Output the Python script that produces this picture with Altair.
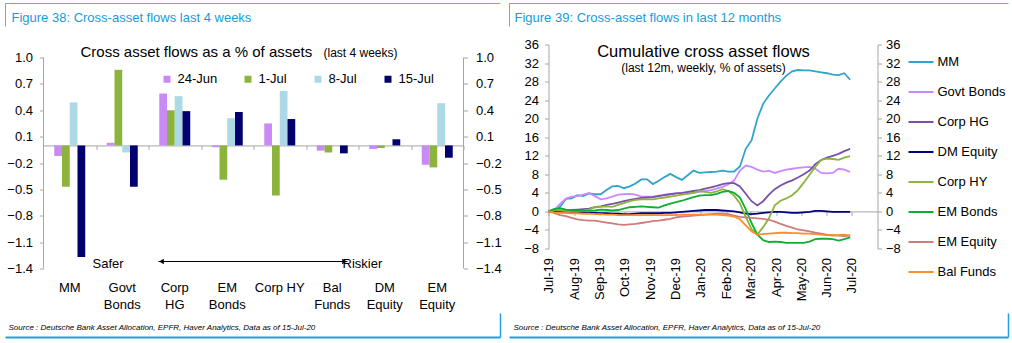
import altair as alt
import pandas as pd

FONT = "Liberation Sans"
TITLE_BLUE = "#1a9bd7"
FRAME_LIGHT = "#4db6e8"
FRAME_DARK = "#1ea1dd"
GRAY = "#a6a6a6"

# ---------------- Figure 38 data ----------------
categories = ["MM", "Govt|Bonds", "Corp|HG", "EM|Bonds", "Corp HY", "Bal|Funds", "DM|Equity", "EM|Equity"]
weeks = ["24-Jun", "1-Jul", "8-Jul", "15-Jul"]
flows_24jun = [-0.12, 0.03, 0.59, -0.02, 0.25, -0.06, -0.04, -0.22]
flows_1jul = [-0.47, 0.86, 0.40, -0.39, -0.57, -0.08, -0.03, -0.25]
flows_8jul = [0.49, -0.08, 0.56, 0.31, 0.62, 0.0, 0.0, 0.48]
flows_15jul = [-1.27, -0.47, 0.39, 0.38, 0.30, -0.09, 0.07, -0.14]
bar_colors = ["#c98af5", "#8cb43c", "#add8e6", "#00006e"]
y_ticks_38 = [-1.4, -1.1, -0.8, -0.5, -0.2, 0.1, 0.4, 0.7, 1.0]

# ---------------- Figure 39 data ----------------
series_names = ["MM", "Govt Bonds", "Corp HG", "DM Equity", "Corp HY", "EM Bonds", "EM Equity", "Bal Funds"]
line_colors = ["#31a5c9", "#cc88ff", "#7851a9", "#000080", "#8cb43c", "#10ae30", "#cd7c7a", "#ff8c2a"]
mm = [0, 0.5, 1.0, 2.7, 2.8, 3.5, 3.3, 3.9, 3.7, 3.7,
      4.6, 5.4, 5.5, 5.0, 5.4, 6.0, 6.9, 6.9, 5.9, 6.6,
      7.4, 8.1, 7.4, 6.8, 7.8, 8.8, 8.3, 8.4, 8.5, 8.6,
      8.8, 8.6, 8.6, 9.7, 13.5, 15.3, 20.0, 23.2, 25.0, 26.5,
      28.0, 29.3, 30.2, 30.5, 30.4, 30.4, 30.2, 30.0, 29.8, 29.5,
      29.4, 29.8, 28.4]
govt_bonds = [0, 0.3, 1.6, 2.8, 3.2, 3.3, 3.6, 4.0, 3.3, 2.6,
              2.8, 3.2, 3.6, 3.7, 3.8, 3.6, 3.2, 3.2, 3.2, 3.4,
              3.6, 3.8, 3.9, 4.0, 4.0, 4.0, 4.2, 4.4, 4.6, 4.9,
              5.3, 5.8, 6.7, 8.8, 9.9, 9.6, 9.0, 8.6, 8.8, 8.3,
              8.7, 9.0, 9.2, 9.4, 9.5, 9.6, 9.2, 8.3, 8.2, 8.3,
              9.2, 9.0, 8.5]
corp_hg = [0, 0, 0.1, 0.2, 0.3, 0.4, 0.5, 0.6, 0.9, 1.1,
           1.4, 1.6, 1.9, 2.2, 2.5, 2.7, 2.9, 3.0, 3.1, 3.3,
           3.5, 3.7, 3.9, 4.0, 4.2, 4.4, 4.6, 4.9, 5.2, 5.5,
           5.9, 6.1, 6.1, 5.4, 3.8, 2.2, 1.3, 2.2, 3.6, 4.8,
           5.6, 6.2, 6.7, 7.3, 8.0, 8.8, 10.2, 11.1, 11.6, 12.0,
           12.4, 13.0, 13.5]
dm_equity = [0, -0.1, -0.2, -0.2, -0.2, -0.3, -0.3, -0.3, -0.3, -0.4,
             -0.4, -0.5, -0.5, -0.6, -0.6, -0.5, -0.4, -0.4, -0.4, -0.4,
             -0.3, -0.3, -0.2, -0.1, 0.0, 0.1, 0.2, 0.3, 0.3, 0.3,
             0.2, 0.1, 0.0, -0.2, -0.5, -0.6, -0.5, -0.3, -0.2, -0.1,
             -0.1, -0.2, -0.3, -0.3, -0.2, -0.1, 0.1, 0.1, 0.0, -0.1,
             -0.1, -0.1, -0.1]
corp_hy = [0, 0.3, 0.3, 0.1, 0, 0, 0.1, 0.4, 0.9, 1.0,
           1.1, 1.0, 1.4, 1.8, 2.2, 2.5, 2.6, 2.6, 2.6, 2.8,
           3.0, 3.2, 3.4, 3.6, 3.8, 4.0, 4.4, 4.2, 4.0, 4.3,
           4.8, 4.4, 3.4, 1.7, -1.2, -3.8, -5.0, -3.4, -1.5, 1.3,
           2.3, 2.8, 3.5, 4.6, 6.2, 7.9, 9.6, 11.1, 11.4, 11.3,
           11.1, 11.6, 11.9]
em_bonds = [0, 0.5, 0.7, 0.4, 0.2, 0.1, 0.1, 0.1, 0.2, 0.4,
            0.3, 0.2, 0.3, 0.6, 0.9, 1.0, 1.1, 1.0, 0.9, 0.8,
            1.3, 1.7, 2.0, 2.3, 2.7, 3.1, 3.4, 3.5, 3.5, 3.8,
            4.2, 4.4, 4.0, 3.0, 0.5, -2.5, -5.0, -6.2, -6.6, -6.5,
            -6.6, -6.8, -6.8, -6.8, -6.8, -6.5, -6.0, -5.9, -5.9, -6.0,
            -6.3, -6.0, -5.6]
em_equity = [0, -0.4, -0.8, -1.0, -1.4, -1.7, -1.9, -2.0, -2.0, -2.2,
             -2.4, -2.6, -2.8, -2.9, -2.8, -2.7, -2.5, -2.3, -2.1, -2.0,
             -1.8, -1.6, -1.3, -1.1, -1.0, -0.9, -0.8, -0.7, -0.6, -0.5,
             -0.5, -0.6, -0.9, -1.2, -1.3, -1.4, -1.5, -1.6, -1.8, -2.2,
             -2.7, -3.1, -3.5, -3.9, -4.1, -4.3, -4.6, -4.8, -5.0, -5.1,
             -5.2, -5.3, -5.2]
bal_funds = [0, -0.2, -0.3, -0.3, -0.4, -0.4, -0.5, -0.5, -0.6, -0.6,
             -0.7, -0.7, -0.8, -0.8, -0.8, -0.8, -0.8, -0.8, -0.8, -0.8,
             -0.8, -0.8, -0.8, -0.7, -0.7, -0.7, -0.7, -0.7, -0.7, -0.7,
             -0.8, -0.9, -1.1, -1.7, -3.0, -4.3, -5.0, -4.9, -4.8, -4.7,
             -4.6, -4.6, -4.7, -4.7, -4.8, -4.8, -4.9, -5.0, -5.1, -5.2,
             -5.1, -5.0, -5.2]
week_dates = pd.date_range("2019-07-01", periods=53, freq="7D").strftime("%Y-%m-%dT00:00:00").tolist()
tick_months = [(2019, m) for m in range(7, 13)] + [(2020, m) for m in range(1, 8)]
y_ticks_39 = [-8, -4, 0, 4, 8, 12, 16, 20, 24, 28, 32, 36]

SOURCE = "Source : Deutsche Bank Asset Allocation, EPFR, Haver Analytics, Data as of 15-Jul-20"

ONE = pd.DataFrame({"k": [0]})


def text_layer(txt, x, y, size, color="black", align="left", italic=False, weight="normal", font=FONT):
    return alt.Chart(pd.DataFrame({"t": [txt]})).mark_text(
        align=align, baseline="alphabetic", fontSize=size, color=color, font=font,
        fontStyle="italic" if italic else "normal", fontWeight=weight,
    ).encode(text="t:N", x=alt.value(x), y=alt.value(y))


def hrule(x1, x2, y, color, width=1.0):
    return alt.Chart(ONE).mark_rule(color=color, strokeWidth=width).encode(
        x=alt.value(x1), x2=alt.value(x2), y=alt.value(y))


def vrule(x, y1, y2, color, width=1.0):
    return alt.Chart(ONE).mark_rule(color=color, strokeWidth=width).encode(
        x=alt.value(x), y=alt.value(y1), y2=alt.value(y2))


def frame(xl, xr, ytop, ybot, yv_top_end, yv_bot_start):
    return [
        hrule(xl, xr, ytop, FRAME_LIGHT, 1),
        vrule(xl, ytop, yv_top_end, FRAME_LIGHT, 1),
        hrule(xl, xr, ybot, FRAME_DARK, 2),
        vrule(xr, yv_bot_start, ybot, FRAME_DARK, 1.5),
    ]


# ================= Left panel (Figure 38) =================
rows38 = []
for wk, vals in zip(weeks, [flows_24jun, flows_1jul, flows_8jul, flows_15jul]):
    for c, v in zip(categories, vals):
        rows38.append({"category": c, "week": wk, "value": v})
df38 = pd.DataFrame(rows38)

W1, H1 = 420, 224
Y38_DOMAIN = [-1.4, 1.148]
zero1 = H1 * Y38_DOMAIN[1] / (Y38_DOMAIN[1] - Y38_DOMAIN[0])
step1 = W1 / len(categories)

xscale38 = alt.Scale(domain=categories, paddingInner=0.41, paddingOuter=0.205)
yscale38 = alt.Scale(domain=Y38_DOMAIN, nice=False, zero=False)

bars = alt.Chart(df38).mark_bar().encode(
    x=alt.X("category:N", sort=categories, scale=xscale38,
            axis=alt.Axis(title=None, orient="bottom", domain=False, ticks=False, grid=False,
                          labelAngle=0, labelExpr="split(datum.label, '|')", labelFontSize=13,
                          labelFont=FONT, labelColor="black", labelPadding=13, labelLineHeight=17)),
    xOffset=alt.XOffset("week:N", sort=weeks, scale=alt.Scale(domain=weeks, paddingInner=0, paddingOuter=0)),
    y=alt.Y("value:Q", scale=yscale38,
            axis=alt.Axis(title=None, orient="left", values=y_ticks_38, format=".1f", domain=False,
                          grid=False, tickSize=4, tickColor=GRAY, labelPadding=7, labelFontSize=13,
                          labelFont=FONT, labelColor="black")),
    color=alt.Color("week:N", sort=weeks, scale=alt.Scale(domain=weeks, range=bar_colors),
                    legend=alt.Legend(title=None, orient="none", direction="horizontal", legendX=117,
                                      legendY=28, symbolType="square", symbolSize=49, symbolStrokeWidth=0,
                                      labelFontSize=13, labelFont=FONT, labelColor="black", labelOffset=4,
                                      columnPadding=24, padding=0)),
)

ghost38 = alt.Chart(df38).mark_point(opacity=0).encode(
    x=alt.X("category:N", sort=categories, scale=xscale38,
            axis=alt.Axis(title=None, orient="bottom", offset=-(H1 - zero1), labels=False, domain=True,
                          domainColor=GRAY, ticks=True, tickColor=GRAY, tickSize=4,
                          tickOffset=step1 / 2, grid=False)),
    y=alt.Y("value:Q", scale=yscale38,
            axis=alt.Axis(title=None, orient="right", values=y_ticks_38, format=".1f", domain=False,
                          grid=False, tickSize=4, tickColor=GRAY, labelPadding=8, labelFontSize=13,
                          labelFont=FONT, labelColor="black")),
)

yline_df = pd.DataFrame({"top": [y_ticks_38[-1]], "bottom": [y_ticks_38[0]]})
yl_left = alt.Chart(yline_df).mark_rule(color=GRAY, strokeWidth=1).encode(
    x=alt.value(0), y=alt.Y("top:Q", scale=yscale38, axis=None), y2="bottom:Q")
yl_right = alt.Chart(yline_df).mark_rule(color=GRAY, strokeWidth=1).encode(
    x=alt.value(W1), y=alt.Y("top:Q", scale=yscale38, axis=None), y2="bottom:Q")

arrow_line = hrule(115, 304, 217, "black", 1)
arrow_l = alt.Chart(ONE).mark_point(shape="triangle-left", filled=True, size=28, color="black", opacity=1).encode(
    x=alt.value(118), y=alt.value(217))
arrow_r = alt.Chart(ONE).mark_point(shape="triangle-right", filled=True, size=28, color="black", opacity=1).encode(
    x=alt.value(301), y=alt.value(217))

left_layers = [bars, ghost38, yl_left, yl_right, arrow_line, arrow_l, arrow_r,
               text_layer("Safer", 49, 223, 13),
               text_layer("Riskier", 299, 223, 13),
               text_layer("Cross asset flows as a % of assets", 37, 12, 15),
               text_layer("(last 4 weeks)", 280, 12, 12),
               text_layer("Figure 38: Cross-asset flows last 4 weeks", -32, -23, 13, color=TITLE_BLUE),
               text_layer(SOURCE, -35, 285, 8, italic=True, font="Liberation Sans Narrow, Liberation Sans")]
left_layers += frame(-38, 457, -41, 293, -18, 269)

left = alt.layer(*left_layers).resolve_axis(x="independent", y="independent").properties(width=W1, height=H1)

# ================= Right panel (Figure 39) =================
series_values = [mm, govt_bonds, corp_hg, dm_equity, corp_hy, em_bonds, em_equity, bal_funds]
rows39 = []
for name, vals in zip(series_names, series_values):
    for d, v in zip(week_dates, vals):
        rows39.append({"date": d, "series": name, "value": v})
df39 = pd.DataFrame(rows39)

W2, H2 = 329, 204
Y39_DOMAIN = [-8, 36]
zero2 = H2 * Y39_DOMAIN[1] / (Y39_DOMAIN[1] - Y39_DOMAIN[0])

xscale39 = alt.Scale(domain=[alt.DateTime(year=2019, month=7, date=1), alt.DateTime(year=2020, month=8, date=1)])
yscale39 = alt.Scale(domain=Y39_DOMAIN, nice=False, zero=False)
month_ticks = [alt.DateTime(year=y, month=m, date=1) for (y, m) in tick_months]

lines = alt.Chart(df39).mark_line(strokeWidth=1.8).encode(
    x=alt.X("date:T", scale=xscale39,
            axis=alt.Axis(title=None, orient="bottom", values=month_ticks, format="%b-%y", labelAngle=270,
                          domain=False, ticks=False, grid=False, labelPadding=9, labelFontSize=13,
                          labelFont=FONT, labelColor="black")),
    y=alt.Y("value:Q", scale=yscale39,
            axis=alt.Axis(title=None, orient="left", values=y_ticks_39, domain=True, domainColor=GRAY,
                          grid=False, tickSize=4, tickColor=GRAY, labelPadding=6, labelFontSize=13,
                          labelFont=FONT, labelColor="black")),
    color=alt.Color("series:N", sort=series_names, scale=alt.Scale(domain=series_names, range=line_colors),
                    legend=alt.Legend(title=None, orient="none", direction="vertical", legendX=359, legendY=4,
                                      symbolType="stroke", symbolSize=625, symbolStrokeWidth=2,
                                      labelFontSize=13, labelFont=FONT, labelColor="black", labelOffset=3,
                                      rowPadding=9, padding=0)),
)

ghost39 = alt.Chart(df39).mark_point(opacity=0).encode(
    x=alt.X("date:T", scale=xscale39,
            axis=alt.Axis(title=None, orient="bottom", offset=-(H2 - zero2), values=month_ticks, labels=False,
                          domain=True, domainColor=GRAY, ticks=True, tickColor=GRAY, tickSize=4, grid=False)),
    y=alt.Y("value:Q", scale=yscale39,
            axis=alt.Axis(title=None, orient="right", values=y_ticks_39, domain=True, domainColor=GRAY,
                          grid=False, tickSize=4, tickColor=GRAY, labelPadding=4, labelFontSize=13,
                          labelFont=FONT, labelColor="black")),
)

right_layers = [lines, ghost39,
                text_layer("Cumulative cross asset flows", 155, 12, 16.5, align="center"),
                text_layer("(last 12m, weekly, % of assets)", 155, 27, 12, align="center"),
                text_layer("Figure 39: Cross-asset flows in last 12 months", -34, -23, 13, color=TITLE_BLUE),
                text_layer(SOURCE, -35, 285, 8, italic=True, font="Liberation Sans Narrow, Liberation Sans")]
right_layers += frame(-39, 460, -41, 293, -18, 269)

right = alt.layer(*right_layers).resolve_axis(x="independent", y="independent").properties(width=W2, height=H2)

chart = alt.hconcat(left, right, spacing=85, bounds="flush").resolve_scale(
    color="independent"
).resolve_legend(color="independent").properties(
    padding={"left": 4.5, "top": 2.5, "right": 2, "bottom": 2},
    background="white",
).configure_view(stroke=None)

chart.save("out.html", embed_options={"renderer": "svg", "actions": False})
